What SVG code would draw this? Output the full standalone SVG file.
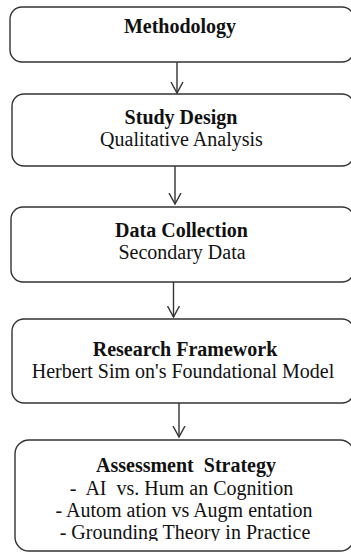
<svg xmlns="http://www.w3.org/2000/svg" width="351" height="553" viewBox="0 0 351 553">
<style>
.box{fill:#fff;stroke:#333;stroke-width:1.4}
.t{font-family:"Liberation Serif","Times New Roman",serif;font-size:20px;fill:#111;text-anchor:middle;white-space:pre}
.b{font-weight:bold}
.c{stroke:#333;stroke-width:1.4;fill:none}
</style>
<defs>
<marker id="ah" markerWidth="14" markerHeight="14" refX="11" refY="7" orient="auto" markerUnits="userSpaceOnUse" viewBox="0 0 14 14">
<path d="M0,1 L11,7 L0,13" fill="none" stroke="#333" stroke-width="1.4"/>
</marker>
<clipPath id="cl"><rect x="0" y="0" width="351" height="541"/></clipPath>
</defs>
<rect width="351" height="553" fill="#fff"/>
<g id="connectors">
<line class="c" x1="177" y1="62" x2="177" y2="93" marker-end="url(#ah)"/>
<line class="c" x1="175" y1="166" x2="175" y2="204" marker-end="url(#ah)"/>
<line class="c" x1="173.5" y1="282" x2="173.5" y2="317" marker-end="url(#ah)"/>
<line class="c" x1="179" y1="403" x2="179" y2="437" marker-end="url(#ah)"/>
</g>
<g id="methodology">
<rect class="box" x="10" y="7" width="344" height="55" rx="12"/>
<text class="t b" x="180" y="33">Methodology</text>
</g>
<g id="study-design">
<rect class="box" x="12" y="94" width="342" height="72" rx="12"/>
<text class="t b" x="181" y="124">Study Design</text>
<text class="t" x="181.5" y="146">Qualitative Analysis</text>
</g>
<g id="data-collection">
<rect class="box" x="11" y="207" width="343" height="75" rx="12"/>
<text class="t b" x="181.5" y="237">Data Collection</text>
<text class="t" x="182" y="259">Secondary Data</text>
</g>
<g id="research-framework">
<rect class="box" x="12" y="319" width="342" height="84" rx="12"/>
<text class="t b" x="185" y="356">Research Framework</text>
<text class="t" x="183" y="378">Herbert Sim on's Foundational Model</text>
</g>
<g id="assessment-strategy">
<rect class="box" x="15" y="440" width="339" height="111" rx="14"/>
<text class="t b" x="186" y="472">Assessment  Strategy</text>
<text class="t" x="181.5" y="495">-  AI  vs. Hum an Cognition</text>
<text class="t" x="184" y="517">- Autom ation vs Augm entation</text>
<text class="t" x="185" y="539" clip-path="url(#cl)">- Grounding Theory in Practice</text>
</g>
</svg>
